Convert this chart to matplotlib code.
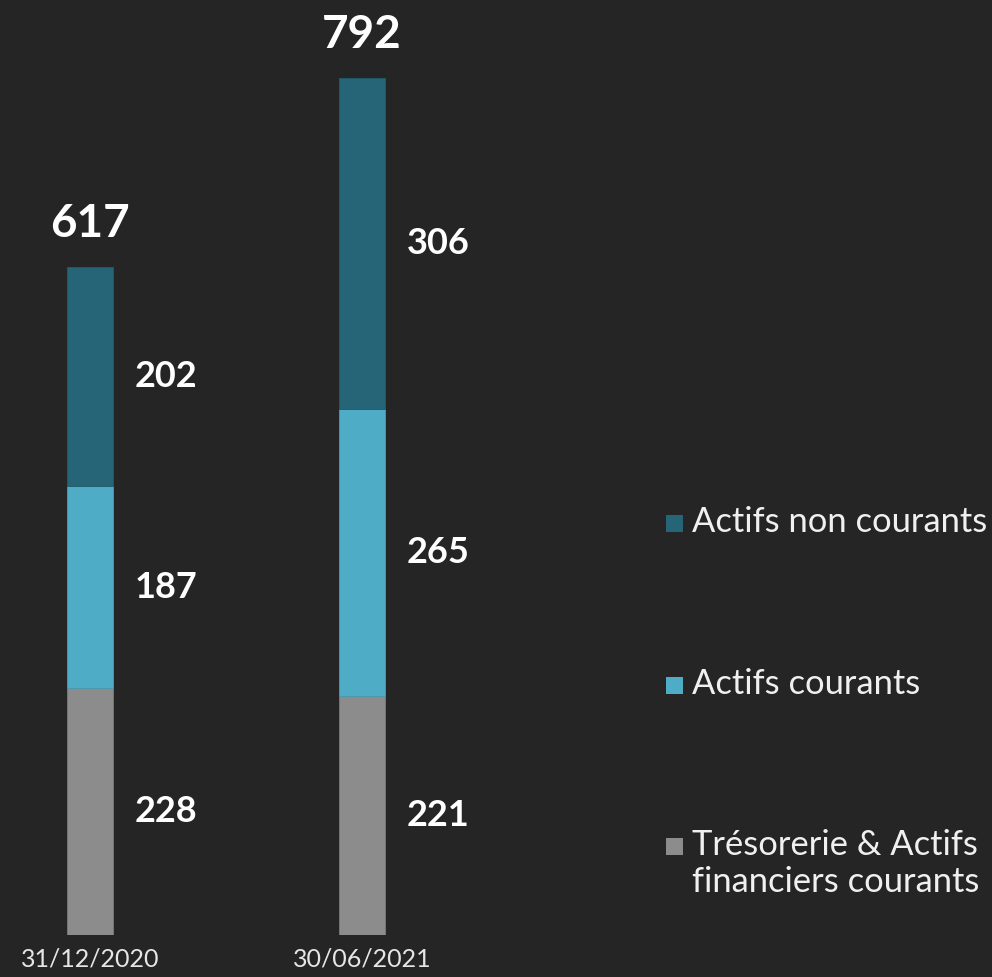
import numpy as np
import matplotlib
matplotlib.use("Agg")
import matplotlib.pyplot as plt
from matplotlib.patches import Rectangle

# Données du bilan (M€)
dates = ["31/12/2020", "30/06/2021"]
tresorerie = [228, 221]
actifs_courants = [187, 265]
actifs_non_courants = [202, 306]
totaux = [617, 792]

series_labels = ["Actifs non courants", "Actifs courants",
                 "Trésorerie & Actifs\nfinanciers courants"]

bg = "#252525"
c_nc = "#256577"
c_c = "#4eacc6"
c_tr = "#8c8c8c"

plt.rcParams["font.family"] = ["Lato", "DejaVu Sans"]

fig = plt.figure(figsize=(9.92, 9.77), dpi=100, facecolor=bg)
ax = fig.add_axes([0, 42 / 977, 640 / 992, 935 / 977])
ax.set_facecolor(bg)

x = np.arange(len(dates))
w = 0.17
b1 = np.array(tresorerie)
b2 = b1 + np.array(actifs_courants)

ax.bar(x, tresorerie, w, color=c_tr, edgecolor="#7a7a7a", linewidth=0.6)
ax.bar(x, actifs_courants, w, bottom=b1, color=c_c, edgecolor="#4a9ab0", linewidth=0.6)
ax.bar(x, actifs_non_courants, w, bottom=b2, color=c_nc, edgecolor="#215a6a", linewidth=0.6)

# étiquettes des segments, à droite des barres
dx = 0.28
for i in range(len(dates)):
    segs = [(tresorerie[i], 0), (actifs_courants[i], b1[i]), (actifs_non_courants[i], b2[i])]
    for val, bot in segs:
        ax.text(x[i] + dx, bot + val / 2, f"{val}", ha="center", va="center",
                color="white", fontsize=26, fontweight="bold")
    ax.annotate(f"{totaux[i]}", (x[i], b2[i] + actifs_non_courants[i]),
                xytext=(0, 16), textcoords="offset points", ha="center", va="bottom",
                color="white", fontsize=33, fontweight="bold")

ax.set_xlim(-90 / 272, 550 / 272)
ax.set_ylim(0, 864)
ax.set_xticks(x)
ax.set_xticklabels(dates, fontsize=18, color="#e6e6e6")
ax.tick_params(axis="x", length=0, pad=9)
ax.set_yticks([])
for s in ax.spines.values():
    s.set_visible(False)

# légende
colors = [c_nc, c_c, c_tr]
ys = [523, 685, 846]
for lab, col, yy in zip(series_labels, colors, ys):
    fig.patches.append(Rectangle((666 / 992, (977 - yy - 9) / 977), 17 / 992, 17 / 977,
                                 transform=fig.transFigure, facecolor=col, edgecolor="none"))
    fig.text(692 / 992, (977 - yy + 17) / 977, lab, ha="left", va="top",
             color="#f0f0f0", fontsize=24.8, linespacing=1.2)

fig.savefig("out.png", dpi=100, facecolor=bg)
